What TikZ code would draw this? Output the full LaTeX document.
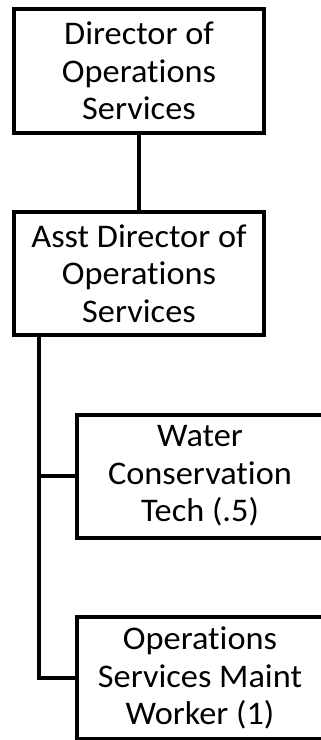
\documentclass[tikz,border=0pt]{standalone}
\usepackage{fontspec}
\setmainfont{Carlito}[FakeStretch=1.04, Ligatures={NoCommon,NoContextual}]
\newcommand{\tisep}{t\kern0pt i}
\begin{document}
\begin{tikzpicture}[x=1pt,y=-1pt,
  orgbox/.style={draw=black, line width=4pt, fill=white, align=center, inner sep=0pt,
    font=\fontsize{33}{37.5}\selectfont},
  link/.style={draw=black, line width=4pt}]
\useasboundingbox (0,0) rectangle (321,740);
\clip (0,0) rectangle (321,740);
\node[orgbox, minimum width=250pt, minimum height=124pt] (dir) at (139,71) {Director of\\Opera\tisep ons\\Services};
\node[orgbox, minimum width=250pt, minimum height=123pt] (asst) at (139,273.5) {Asst Director of\\Opera\tisep ons\\Services};
\node[orgbox, minimum width=246pt, minimum height=123pt] (water) at (200,476) {Water\\Conserva\tisep on\\Tech (.5)};
\node[orgbox, minimum width=246pt, minimum height=122pt] (ops) at (200,678) {Opera\tisep ons\\Services Maint\\Worker (1)};
\coordinate (trunk) at (39,0);
\draw[link] (dir.south) -- (asst.north);
\draw[link] (asst.south -| trunk) |- (water.west);
\draw[link] (asst.south -| trunk) |- (ops.west);
\end{tikzpicture}
\end{document}
